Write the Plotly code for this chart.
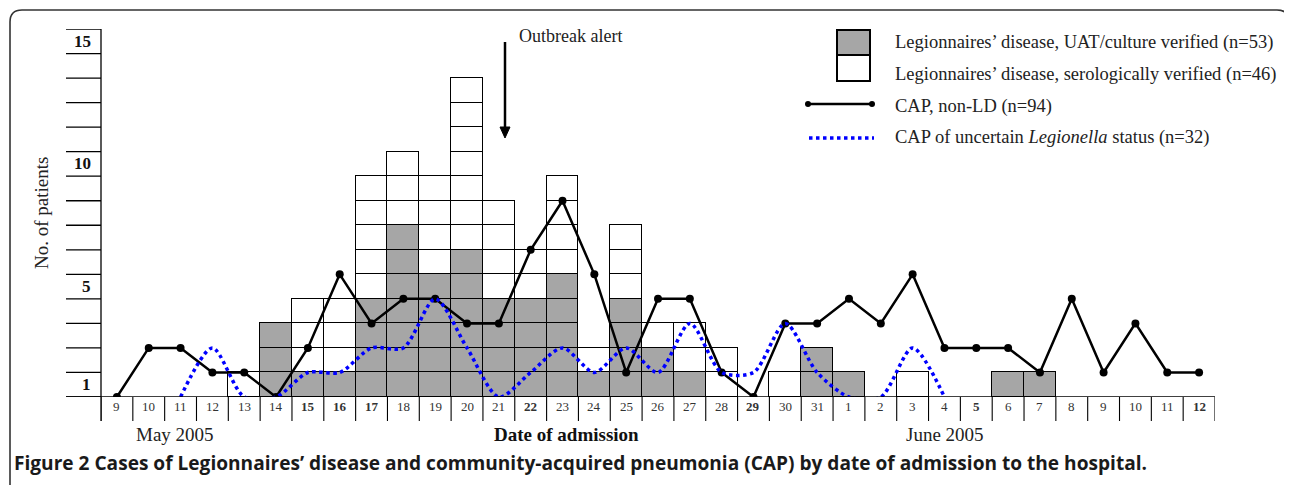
import plotly.graph_objects as go

# ---------------- data ----------------
dates = ["9", "10", "11", "12", "13", "14", "15", "16", "17", "18", "19", "20", "21", "22",
         "23", "24", "25", "26", "27", "28", "29", "30", "31",
         "1", "2", "3", "4", "5", "6", "7", "8", "9", "10", "11", "12"]
bold_days = [False, False, False, False, False, False, True, True, True, False, False, False, False, True,
             False, False, False, False, False, False, True, False, False,
             False, False, False, False, True, False, False, False, False, False, False, True]
ld_uat = [0, 0, 0, 0, 0, 3, 1, 1, 4, 7, 5, 6, 4, 4, 5, 1, 4, 2, 1, 0, 0, 0, 2,
          1, 0, 0, 0, 0, 1, 1, 0, 0, 0, 0, 0]
ld_sero = [0, 0, 0, 0, 1, 0, 3, 3, 5, 3, 4, 7, 4, 2, 4, 1, 3, 1, 2, 2, 0, 1, 0,
           0, 0, 1, 0, 0, 0, 0, 0, 0, 0, 0, 0]
cap_nonld = [0, 2, 2, 1, 1, 0, 2, 5, 3, 4, 4, 3, 3, 6, 8, 5, 1, 4, 4, 1, 0, 3, 3,
             4, 3, 5, 2, 2, 2, 1, 4, 1, 3, 1, 1]
cap_uncertain = [None, None, 0, 2, 0, 0, 1, 1, 2, 2, 4, 2, 0, 1, 2, 1, 2, 1, 3, 1, 1, 3, 1,
                 0, 0, 2, 0, None, None, None, None, None, None, None, None]
y_labels = [15, 10, 5, 1]

# ---------------- geometry (screen pixels; page body has an 8px margin) ----------------
OFF = 8
FW, FH = 1292 - OFF, 485 - OFF
PL, PR, PT, PB = 101, 1215, 29, 397          # plot area in screen pixels
PW, PH = PR - PL, PB - PT


def px(x):
    return (x - PL) / PW


def py(y):
    return (PB - y) / PH


SERIF = "Liberation Serif"
GRAY = "#a6a6a6"
n = len(dates)
xs = list(range(n))

fig = go.Figure()

# stacked unit boxes
for k in range(1, max(ld_uat) + 1):
    fig.add_trace(go.Bar(x=xs, y=[1 if v >= k else None for v in ld_uat],
                         marker=dict(color=GRAY, line=dict(color="black", width=1.3)),
                         showlegend=False, hoverinfo="skip"))
for k in range(1, max(ld_sero) + 1):
    fig.add_trace(go.Bar(x=xs, y=[1 if v >= k else None for v in ld_sero],
                         marker=dict(color="white", line=dict(color="black", width=1.3)),
                         showlegend=False, hoverinfo="skip"))

fig.add_trace(go.Scatter(x=xs, y=cap_nonld, mode="lines+markers",
                         line=dict(color="black", width=2.5),
                         marker=dict(color="black", size=8),
                         showlegend=False, hoverinfo="skip"))
fig.add_trace(go.Scatter(x=xs, y=cap_uncertain, mode="lines",
                         line=dict(color="#0000ff", width=3.5, dash="dot", shape="spline", smoothing=0.8),
                         connectgaps=False, showlegend=False, hoverinfo="skip"))

shapes = []
ann = []

# y axis ticks (unit lines left of the axis)
for k in range(0, 16):
    shapes.append(dict(type="line", xref="paper", yref="y", x0=px(66), x1=px(101), y0=k, y1=k,
                       line=dict(color="black", width=1.3)))
# baseline
shapes.append(dict(type="line", xref="paper", yref="y", x0=px(66), x1=1, y0=0, y1=0,
                   line=dict(color="black", width=1.3)))
# y axis vertical line
shapes.append(dict(type="line", xref="paper", yref="paper", x0=0, x1=0, y0=py(421), y1=1,
                   line=dict(color="black", width=1.3)))
# x category cells below the axis
for i in range(n + 1):
    shapes.append(dict(type="line", xref="x", yref="paper", x0=i - 0.5, x1=i - 0.5,
                       y0=py(421), y1=0, line=dict(color="black", width=1.1)))

# y labels
for v in y_labels:
    ann.append(dict(xref="paper", yref="y", x=px(93), y=v - 0.5, text=f"<b>{v}</b>",
                    showarrow=False, xanchor="right", yanchor="middle",
                    font=dict(family=SERIF, size=17, color="#111")))
# x labels
for i, (d, b) in enumerate(zip(dates, bold_days)):
    ann.append(dict(xref="x", yref="paper", x=i, y=py(406), text=f"<b>{d}</b>" if b else d,
                    showarrow=False, xanchor="center", yanchor="middle",
                    font=dict(family=SERIF, size=13, color="#333")))

ann.append(dict(xref="paper", yref="paper", x=px(175), y=py(434), text="May 2005", showarrow=False,
                xanchor="center", yanchor="middle", font=dict(family=SERIF, size=19, color="#222")))
ann.append(dict(xref="paper", yref="paper", x=px(945), y=py(434), text="June 2005", showarrow=False,
                xanchor="center", yanchor="middle", font=dict(family=SERIF, size=19, color="#222")))
ann.append(dict(xref="paper", yref="paper", x=px(566), y=py(434), text="<b>Date of admission</b>",
                showarrow=False, xanchor="center", yanchor="middle",
                font=dict(family=SERIF, size=19, color="#111")))
ann.append(dict(xref="paper", yref="paper", x=px(41), y=py(213), text="No. of patients", textangle=-90,
                showarrow=False, xanchor="center", yanchor="middle",
                font=dict(family=SERIF, size=19, color="#222")))

# outbreak alert
ann.append(dict(xref="paper", yref="paper", x=px(517), y=py(36), text="Outbreak alert", showarrow=False,
                xanchor="left", yanchor="middle", font=dict(family=SERIF, size=18, color="#222")))
shapes.append(dict(type="line", xref="paper", yref="paper", x0=px(505), x1=px(505), y0=py(42), y1=py(128),
                   line=dict(color="black", width=2.5)))
shapes.append(dict(type="path", xref="paper", yref="paper",
                   path=f"M {px(500)} {py(127)} L {px(510)} {py(127)} L {px(505)} {py(138)} Z",
                   fillcolor="black", line=dict(color="black", width=1)))

# legend
shapes.append(dict(type="rect", xref="paper", yref="paper", x0=px(837), x1=px(870), y0=py(55), y1=py(30),
                   fillcolor=GRAY, line=dict(color="black", width=2)))
shapes.append(dict(type="rect", xref="paper", yref="paper", x0=px(837), x1=px(870), y0=py(81), y1=py(55),
                   fillcolor="white", line=dict(color="black", width=2)))
shapes.append(dict(type="line", xref="paper", yref="paper", x0=px(808), x1=px(872), y0=py(104), y1=py(104),
                   line=dict(color="black", width=2.5)))
for cx in (808, 872):
    shapes.append(dict(type="circle", xref="paper", yref="paper", x0=px(cx - 3), x1=px(cx + 3),
                       y0=py(107), y1=py(101), fillcolor="black", line=dict(color="black", width=0)))
shapes.append(dict(type="line", xref="paper", yref="paper", x0=px(809), x1=px(874), y0=py(138), y1=py(138),
                   line=dict(color="#0000ff", width=3.5, dash="dot")))
legend_texts = ["Legionnaires’ disease, UAT/culture verified (n=53)",
                "Legionnaires’ disease, serologically verified (n=46)",
                "CAP, non-LD (n=94)",
                "CAP of uncertain <i>Legionella</i> status (n=32)"]
for t, yy in zip(legend_texts, (42, 74, 106, 137)):
    ann.append(dict(xref="paper", yref="paper", x=px(893), y=py(yy), text=t, showarrow=False,
                    xanchor="left", yanchor="middle", font=dict(family=SERIF, size=18.5, color="#222")))

# caption
ann.append(dict(xref="paper", yref="paper", x=px(12), y=py(463),
                text="<b>Figure 2</b> Cases of Legionnaires’ disease and community-acquired pneumonia (CAP) by date of admission to the hospital.",
                showarrow=False, xanchor="left", yanchor="middle",
                font=dict(family="Open Sans", size=19.1, color="#1a1a1a", weight="bold")))

# rounded frame
r = 12
L, T, R, Bt = 10, 10, 1289, 495
frame = (f"M {px(L)} {py(Bt)} L {px(L)} {py(T + r)} Q {px(L)} {py(T)} {px(L + r)} {py(T)} "
         f"L {px(R - r)} {py(T)} Q {px(R)} {py(T)} {px(R)} {py(T + r)} L {px(R)} {py(Bt)}")
shapes.append(dict(type="path", xref="paper", yref="paper", path=frame,
                   line=dict(color="#333", width=1.6)))

fig.update_layout(
    width=FW, height=FH,
    margin=dict(l=PL - OFF, r=FW - (PR - OFF), t=PT - OFF, b=FH - (PB - OFF), pad=0),
    paper_bgcolor="white", plot_bgcolor="white",
    barmode="stack", bargap=0,
    showlegend=False,
    xaxis=dict(range=[-0.5, n - 0.5], showticklabels=False, showgrid=False, zeroline=False,
               showline=False, ticks=""),
    yaxis=dict(range=[0, 15], showticklabels=False, showgrid=False, zeroline=False,
               showline=False, ticks=""),
    shapes=shapes, annotations=ann,
)

fig.write_html("out.html")
